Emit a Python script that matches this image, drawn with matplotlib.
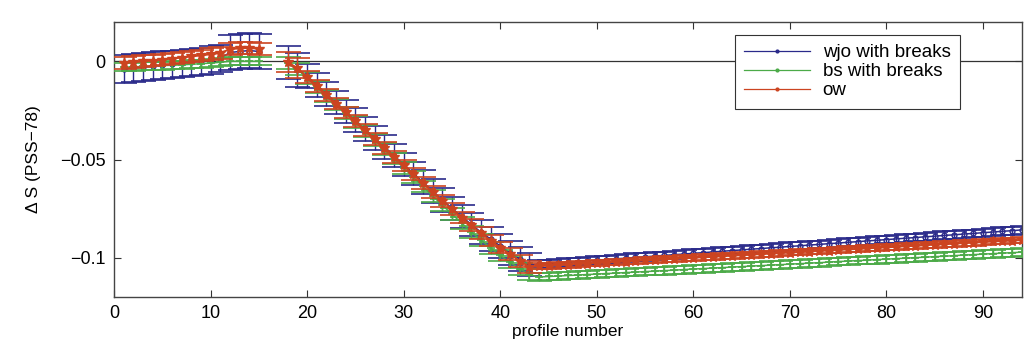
import matplotlib
matplotlib.use("Agg")
import matplotlib.pyplot as plt
from matplotlib.lines import Line2D
import numpy as np

plt.rcParams['font.family'] = ['Liberation Sans', 'DejaVu Sans']

nan = np.nan

# profile numbers (16 and 17 are a break)
profiles = list(range(1, 95))

wjo = [-0.004, -0.0035, -0.003, -0.0025, -0.002, -0.0015, -0.001, -0.0005, 0.0, 0.0008, 0.0015,
       0.0045, 0.005, 0.0055, 0.005,
       nan, nan,
       -0.0005, -0.0045,
       -0.0075, -0.012, -0.0165, -0.021, -0.0255, -0.030, -0.0345, -0.039, -0.0435, -0.048,
       -0.0525, -0.057, -0.0615, -0.066, -0.0705, -0.0748, -0.079, -0.083, -0.087, -0.0905,
       -0.094, -0.0975, -0.1005, -0.1035,
       -0.1033, -0.1030, -0.1026, -0.1023, -0.1019, -0.1016, -0.1012, -0.1009, -0.1005, -0.1002,
       -0.0998, -0.0995, -0.0991, -0.0988, -0.0984, -0.0981, -0.0977, -0.0974, -0.0970, -0.0967,
       -0.0963, -0.0960, -0.0956, -0.0953, -0.0949, -0.0946, -0.0942, -0.0939, -0.0935, -0.0932,
       -0.0928, -0.0925, -0.0921, -0.0918, -0.0914, -0.0911, -0.0907, -0.0904, -0.0900, -0.0897,
       -0.0893, -0.0890, -0.0886, -0.0883, -0.0879, -0.0876, -0.0872, -0.0869, -0.0865, -0.0862, -0.0858]

bs = [-0.003, -0.0028, -0.0026, -0.0024, -0.0022, -0.002, -0.0018, -0.0015, -0.0012, -0.0009, -0.0005,
      0.0, 0.0, 0.0, 0.0,
      nan, nan,
      -0.001, -0.004,
      -0.0085, -0.013, -0.0175, -0.022, -0.0265, -0.031, -0.0355, -0.040, -0.0448, -0.0495,
      -0.0542, -0.059, -0.0637, -0.0685, -0.0732, -0.0778, -0.0823, -0.0868, -0.091, -0.095,
      -0.0988, -0.1023, -0.1055, -0.1085,
      -0.1098, -0.1095, -0.1093, -0.1090, -0.1088, -0.1085, -0.1083, -0.1080, -0.1078, -0.1075,
      -0.1073, -0.1070, -0.1068, -0.1065, -0.1063, -0.1060, -0.1057, -0.1055, -0.1052, -0.1050,
      -0.1047, -0.1045, -0.1042, -0.1040, -0.1037, -0.1035, -0.1032, -0.1030, -0.1027, -0.1025,
      -0.1022, -0.1019, -0.1017, -0.1014, -0.1012, -0.1009, -0.1007, -0.1004, -0.1002, -0.0999,
      -0.0997, -0.0994, -0.0992, -0.0989, -0.0986, -0.0984, -0.0981, -0.0979, -0.0976, -0.0974, -0.0971]

ow = [-0.0008, -0.0004, 0.0, 0.0004, 0.0009, 0.0014, 0.0019, 0.0025, 0.003, 0.0036, 0.0042,
      0.0062, 0.0066, 0.0068, 0.0064,
      nan, nan,
      -0.0005, -0.0035,
      -0.008, -0.0125, -0.017, -0.0215, -0.026, -0.0305, -0.035, -0.0395, -0.044, -0.0485,
      -0.053, -0.0575, -0.062, -0.0665, -0.071, -0.0753, -0.0795, -0.0835, -0.0875, -0.0912,
      -0.0948, -0.0982, -0.1015, -0.1045,
      -0.1043, -0.1040, -0.1037, -0.1035, -0.1032, -0.1029, -0.1027, -0.1024, -0.1021, -0.1019,
      -0.1016, -0.1013, -0.1011, -0.1008, -0.1005, -0.1003, -0.1000, -0.0997, -0.0995, -0.0992,
      -0.0989, -0.0987, -0.0984, -0.0981, -0.0979, -0.0976, -0.0973, -0.0971, -0.0968, -0.0965,
      -0.0963, -0.0960, -0.0957, -0.0955, -0.0952, -0.0949, -0.0947, -0.0944, -0.0941, -0.0939,
      -0.0936, -0.0933, -0.0931, -0.0928, -0.0925, -0.0923, -0.0920, -0.0917, -0.0915, -0.0912, -0.0910]

# error bars, per segment: 1-11, 12-15, 16-17 (break), 18-19, 20-43, 44-94
wjo_err = [0.007] * 11 + [0.009] * 4 + [nan] * 2 + [0.0085] * 2 + [0.006] * 24 + [0.002] * 51
bs_err = [0.002] * 11 + [0.002] * 4 + [nan] * 2 + [0.003] * 2 + [0.003] * 24 + [0.002] * 51
ow_err = [0.003] * 11 + [0.003] * 4 + [nan] * 2 + [0.005] * 2 + [0.003] * 24 + [0.0015] * 51

labels = ['wjo with breaks', 'bs with breaks', 'ow']
colors = ['#2a2a8a', '#4caa48', '#cc4420']

fig = plt.figure(figsize=(10.32, 3.61), dpi=100)
ax = fig.add_axes([0.1105, 0.177, 0.8795, 0.762])

ax.axhline(0, color='#333333', lw=0.9, zorder=1)

ax.errorbar(profiles, wjo, yerr=wjo_err, color=colors[0], marker='o', ms=3.5, mfc='none',
            lw=1.1, elinewidth=1.0, capsize=9, capthick=1.2, zorder=2)
ax.errorbar(profiles, bs, yerr=bs_err, color=colors[1], marker='+', ms=6, mew=1.2,
            lw=1.1, elinewidth=1.0, capsize=9, capthick=1.2, zorder=3)
ax.errorbar(profiles, ow, yerr=ow_err, color=colors[2], marker='*', ms=7,
            lw=1.4, elinewidth=1.0, capsize=9, capthick=1.2, zorder=4)

handles = [Line2D([], [], color=c, lw=0.9, marker='.', ms=4) for c in colors]
leg = ax.legend(handles, labels, loc='upper right', bbox_to_anchor=(0.932, 0.953),
                fontsize=13.5, fancybox=False, framealpha=1, borderaxespad=0,
                handlelength=3.5, handletextpad=0.7, labelspacing=0.1, borderpad=0.5)
leg.get_frame().set_edgecolor('#333333')
leg.get_frame().set_linewidth(0.8)
leg.set_zorder(10)

ax.set_xlim(0, 94)
ax.set_ylim(-0.12, 0.02)
ax.set_xticks([0, 10, 20, 30, 40, 50, 60, 70, 80, 90])
ax.set_yticks([-0.1, -0.05, 0])
ax.set_yticklabels(['\u22120.1', '\u22120.05', '0'])
ax.tick_params(direction='in', top=True, right=True, labelsize=13, length=5,
               color='#333333', pad=6)
for s in ax.spines.values():
    s.set_color('#444444')
    s.set_linewidth(1.0)

ax.set_xlabel('profile number', fontsize=12.5, labelpad=1)
ax.set_ylabel('\u0394 S (PSS\u221278)', fontsize=12.5, labelpad=14)

fig.savefig('out.png', dpi=100)
